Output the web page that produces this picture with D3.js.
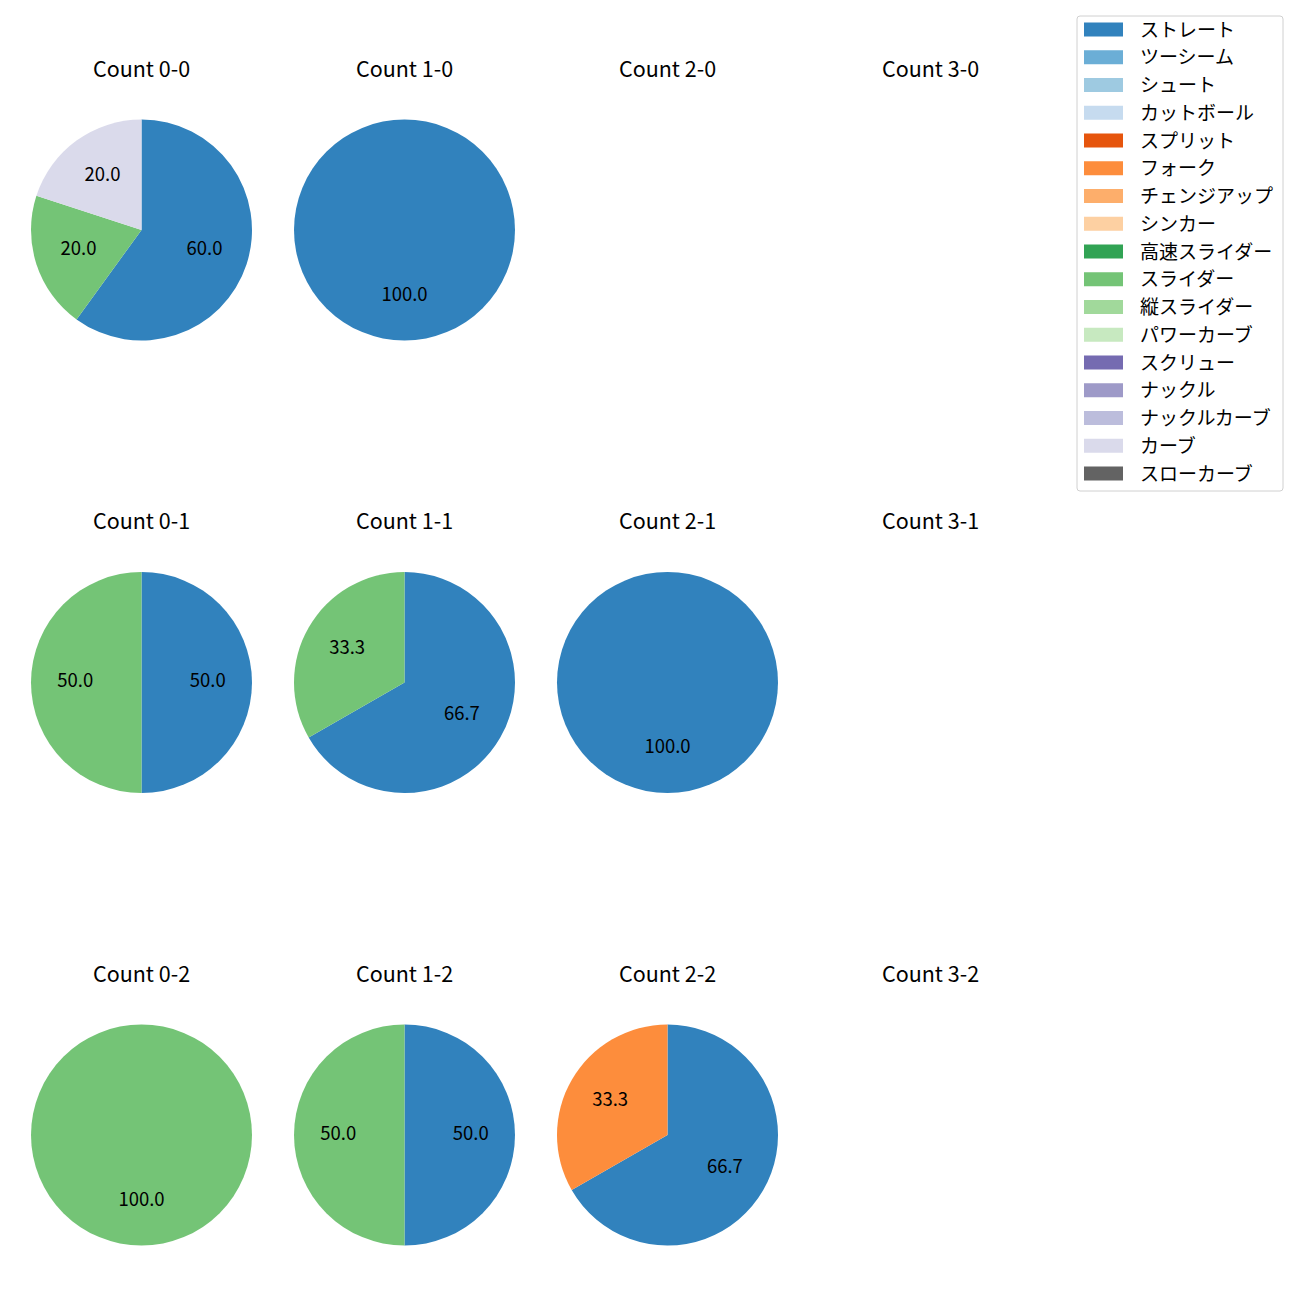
<!DOCTYPE html>
<html>
<head>
<meta charset="utf-8">
<script src="https://cdn.jsdelivr.net/npm/d3@7"></script>
<style>
  body { margin: 0; background: #fff; }
  text { font-family: "Noto Sans CJK JP", "Noto Sans", sans-serif; fill: #000; }
</style>
</head>
<body>
<div id="chart"></div>
<script>
// pitch types and their colours (legend order)
var pitchTypes = ["ストレート", "ツーシーム", "シュート", "カットボール", "スプリット", "フォーク",
                  "チェンジアップ", "シンカー", "高速スライダー", "スライダー", "縦スライダー",
                  "パワーカーブ", "スクリュー", "ナックル", "ナックルカーブ", "カーブ", "スローカーブ"];
var pitchColors = ["#3182bd", "#6baed6", "#9ecae1", "#c6dbef", "#e6550d", "#fd8d3c",
                   "#fdae6b", "#fdd0a2", "#31a354", "#74c476", "#a1d99b",
                   "#c7e9c0", "#756bb1", "#9e9ac8", "#bcbddc", "#dadaeb", "#636363"];

// panel titles, row by row (strikes), column by column (balls)
var panelTitles = [
  ["Count 0-0", "Count 1-0", "Count 2-0", "Count 3-0"],
  ["Count 0-1", "Count 1-1", "Count 2-1", "Count 3-1"],
  ["Count 0-2", "Count 1-2", "Count 2-2", "Count 3-2"]
];

// percentage per pitch type, same order as pitchTypes
//               ス  ツ  シ  カ  スプ フォ チェ シン 高速 スラ 縦  パワ スク ナッ ナカ カー スロ
var count0_0 = [60,  0,  0,  0,  0,  0,  0,  0,  0, 20,  0,  0,  0,  0,  0, 20,  0];
var count1_0 = [100, 0,  0,  0,  0,  0,  0,  0,  0,  0,  0,  0,  0,  0,  0,  0,  0];
var count2_0 = [];
var count3_0 = [];
var count0_1 = [50,  0,  0,  0,  0,  0,  0,  0,  0, 50,  0,  0,  0,  0,  0,  0,  0];
var count1_1 = [66.7,0,  0,  0,  0,  0,  0,  0,  0, 33.3,0,  0,  0,  0,  0,  0,  0];
var count2_1 = [100, 0,  0,  0,  0,  0,  0,  0,  0,  0,  0,  0,  0,  0,  0,  0,  0];
var count3_1 = [];
var count0_2 = [0,   0,  0,  0,  0,  0,  0,  0,  0, 100, 0,  0,  0,  0,  0,  0,  0];
var count1_2 = [50,  0,  0,  0,  0,  0,  0,  0,  0, 50,  0,  0,  0,  0,  0,  0,  0];
var count2_2 = [66.7,0,  0,  0,  0, 33.3,0,  0,  0,  0,  0,  0,  0,  0,  0,  0,  0];
var count3_2 = [];

var panelValues = [
  [count0_0, count1_0, count2_0, count3_0],
  [count0_1, count1_1, count2_1, count3_1],
  [count0_2, count1_2, count2_2, count3_2]
];

var width = 1300, height = 1300;
var radius = 110.5;

var svg = d3.select("#chart")
  .append("svg")
    .attr("width", width)
    .attr("height", height);

var colX = d3.scalePoint().domain([0, 1, 2, 3]).range([141.5, 930.5]);
var rowY = d3.scalePoint().domain([0, 1, 2]).range([230, 1135]);

var color = d3.scaleOrdinal().domain(pitchTypes).range(pitchColors);

var pie = d3.pie().sort(null).value(function(d) { return d.value; });
var arc = d3.arc().innerRadius(0).outerRadius(radius);
var labelArc = d3.arc().innerRadius(radius * 0.6).outerRadius(radius * 0.6);

panelValues.forEach(function(row, r) {
  row.forEach(function(vals, c) {
    var g = svg.append("g")
      .attr("transform", "translate(" + colX(c) + "," + rowY(r) + ")");

    g.append("text")
      .attr("x", 0)
      .attr("y", -radius - 43)
      .attr("text-anchor", "middle")
      .style("font-size", "21.5px")
      .text(panelTitles[r][c]);

    var data = vals.map(function(v, i) { return {type: pitchTypes[i], value: v}; })
      .filter(function(d) { return d.value > 0; });
    if (!data.length) return;

    var arcs = pie(data);

    g.selectAll("path")
      .data(arcs)
      .enter()
      .append("path")
        .attr("d", arc)
        .attr("fill", function(d) { return color(d.data.type); });

    g.selectAll("text.pct")
      .data(arcs)
      .enter()
      .append("text")
        .attr("class", "pct")
        .attr("transform", function(d) { return "translate(" + labelArc.centroid(d) + ")"; })
        .attr("text-anchor", "middle")
        .attr("dy", "0.25em")
        .style("font-size", "18.5px")
        .text(function(d) { return d.data.value.toFixed(1); });
  });
});

// legend
var legend = svg.append("g").attr("transform", "translate(1077,16)");
legend.append("rect")
  .attr("x", 0).attr("y", 0)
  .attr("width", 206).attr("height", 475)
  .attr("rx", 3)
  .attr("fill", "#fff")
  .attr("stroke", "#d0d0d0");

var ly = d3.scalePoint().domain(pitchTypes).range([13.5, 457.5]);

legend.selectAll("rect.sw")
  .data(pitchTypes)
  .enter()
  .append("rect")
    .attr("class", "sw")
    .attr("x", 7)
    .attr("y", function(d) { return ly(d) - 7; })
    .attr("width", 39)
    .attr("height", 14)
    .attr("fill", function(d) { return color(d); });

legend.selectAll("text.lab")
  .data(pitchTypes)
  .enter()
  .append("text")
    .attr("class", "lab")
    .attr("x", 63)
    .attr("y", function(d) { return ly(d); })
    .attr("dy", "0.38em")
    .style("font-size", "19px")
    .text(function(d) { return d; });
</script>
</body>
</html>
